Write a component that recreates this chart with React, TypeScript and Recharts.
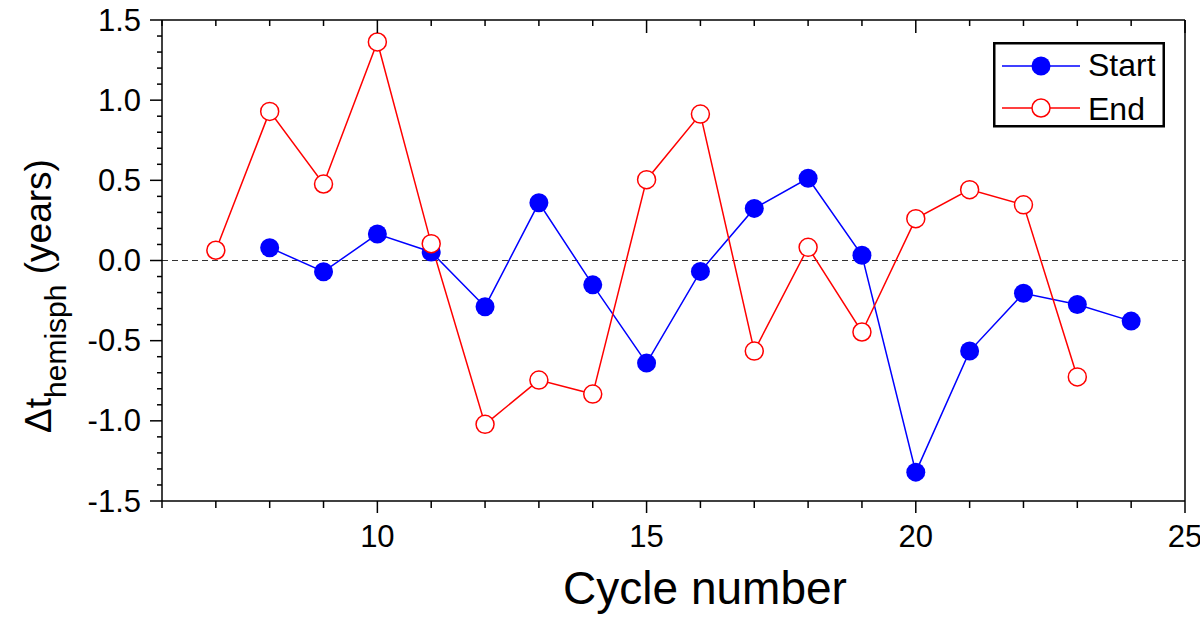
import { LineChart, Line, XAxis, YAxis, ReferenceLine, Legend } from 'recharts';

// Cycle numbers and hemispheric time differences (years)
const startCycles = [8, 9, 10, 11, 12, 13, 14, 15, 16, 17, 18, 19, 20, 21, 22, 23, 24];
const startValues = [0.08, -0.07, 0.165, 0.053, -0.288, 0.36, -0.152, -0.64, -0.068, 0.325, 0.513, 0.033, -1.32, -0.565, -0.204, -0.274, -0.378];

const endCycles = [7, 8, 9, 10, 11, 12, 13, 14, 15, 16, 17, 18, 19, 20, 21, 22, 23];
const endValues = [0.064, 0.93, 0.477, 1.363, 0.105, -1.022, -0.746, -0.833, 0.504, 0.913, -0.565, 0.082, -0.446, 0.261, 0.442, 0.347, -0.726];

const xTicks = [6, 7, 8, 9, 10, 11, 12, 13, 14, 15, 16, 17, 18, 19, 20, 21, 22, 23, 24, 25];
const xLabels = [10, 15, 20, 25];
const yTicks = [
  -1.5, -1.4, -1.3, -1.2, -1.1, -1.0, -0.9, -0.8, -0.7, -0.6, -0.5, -0.4, -0.3, -0.2, -0.1, 0,
  0.1, 0.2, 0.3, 0.4, 0.5, 0.6, 0.7, 0.8, 0.9, 1.0, 1.1, 1.2, 1.3, 1.4, 1.5,
];
const yLabels = [-1.5, -1.0, -0.5, 0, 0.5, 1.0, 1.5];

const FONT = '"Liberation Sans", Arial, sans-serif';
const BLUE = '#0000ff';
const RED = '#ff0000';

const allCycles = Array.from(new Set([...endCycles, ...startCycles])).sort((a, b) => a - b);
const tableData = allCycles.map(c => {
  const si = startCycles.indexOf(c);
  const ei = endCycles.indexOf(c);
  return {
    cycle: c,
    start: si >= 0 ? startValues[si] : null,
    end: ei >= 0 ? endValues[ei] : null,
  };
});

const isYMajor = (v: number) => yLabels.some(l => Math.abs(l - v) < 1e-6);

const BottomTick = ({ x, y, payload }: any) => {
  const major = xLabels.includes(payload.value);
  return (
    <g>
      <line x1={x} y1={y} x2={x} y2={y + (major ? 12 : 7)} stroke="#000" strokeWidth={1.5} />
      {major && (
        <text x={x} y={y + 46} textAnchor="middle" fontSize={31} fontFamily={FONT} fill="#000">
          {payload.value}
        </text>
      )}
    </g>
  );
};

const TopTick = ({ x, y, payload }: any) => {
  const major = xLabels.includes(payload.value);
  return <line x1={x} y1={y} x2={x} y2={y + (major ? 13 : 6)} stroke="#000" strokeWidth={1.5} />;
};

const LeftTick = ({ x, y, payload }: any) => {
  const major = isYMajor(payload.value);
  return (
    <g>
      <line x1={x} y1={y} x2={x - (major ? 12 : 5)} y2={y} stroke="#000" strokeWidth={1.5} />
      {major && (
        <text x={x - 21} y={y + 10.5} textAnchor="end" fontSize={31} fontFamily={FONT} fill="#000">
          {payload.value.toFixed(1)}
        </text>
      )}
    </g>
  );
};

const RightTick = ({ x, y, payload }: any) => {
  const major = isYMajor(payload.value);
  return <line x1={x} y1={y} x2={x - (major ? 13 : 6)} y2={y} stroke="#000" strokeWidth={1.5} />;
};

const renderLegend = () => (
  <svg width={172} height={86} style={{ display: 'block' }}>
    <rect x={1.25} y={1.25} width={169.5} height={83} fill="#fff" stroke="#000" strokeWidth={2.5} />
    <line x1={9} y1={24} x2={87} y2={24} stroke={BLUE} strokeWidth={1.5} />
    <circle cx={48} cy={24} r={9.5} fill={BLUE} />
    <text x={95} y={34} fontSize={32} fontFamily={FONT} fill="#000">Start</text>
    <line x1={9} y1={66} x2={87} y2={66} stroke={RED} strokeWidth={1.5} />
    <circle cx={48} cy={66} r={9} fill="#fff" stroke={RED} strokeWidth={1.5} />
    <text x={95} y={78} fontSize={32} fontFamily={FONT} fill="#000">End</text>
  </svg>
);

const YLabel = () => (
  <text
    x={51}
    y={296}
    transform="rotate(-90, 51, 296)"
    textAnchor="middle"
    fontFamily={FONT}
    fill="#000"
    fontSize={37}
  >
    Δt
    <tspan fontSize={30} dy={15}>hemisph</tspan>
    <tspan fontSize={37} dy={-15}> (years)</tspan>
  </text>
);

const XLabel = () => (
  <text x={705} y={604} textAnchor="middle" fontFamily={FONT} fontSize={46} fill="#000">
    Cycle number
  </text>
);

export default function App() {
  return (
    <div style={{ position: 'absolute', left: 0, top: 0, width: 1200, height: 632, background: '#fff' }}>
      <LineChart width={1200} height={632} data={tableData} margin={{ top: 0, right: 0, bottom: 0, left: 0 }}>
        <XAxis
          dataKey="cycle"
          type="number"
          domain={[6, 25]}
          ticks={xTicks}
          interval={0}
          height={131}
          tickSize={0}
          tickMargin={0}
          tick={<BottomTick />}
          axisLine={{ stroke: '#000', strokeWidth: 1.5 }}
          label={{ content: () => <XLabel /> }}
        />
        <XAxis
          xAxisId="top"
          orientation="top"
          dataKey="cycle"
          type="number"
          domain={[6, 25]}
          ticks={xTicks}
          interval={0}
          height={20}
          tickSize={0}
          tickMargin={0}
          tick={<TopTick />}
          axisLine={{ stroke: '#000', strokeWidth: 1.5 }}
        />
        <YAxis
          type="number"
          domain={[-1.5, 1.5]}
          ticks={yTicks}
          interval={0}
          width={162}
          tickSize={0}
          tickMargin={0}
          tick={<LeftTick />}
          axisLine={{ stroke: '#000', strokeWidth: 1.5 }}
          label={{ content: () => <YLabel /> }}
        />
        <YAxis
          yAxisId="right"
          orientation="right"
          type="number"
          domain={[-1.5, 1.5]}
          ticks={yTicks}
          interval={0}
          width={15}
          tickSize={0}
          tickMargin={0}
          tick={<RightTick />}
          axisLine={{ stroke: '#000', strokeWidth: 1.5 }}
        />
        <ReferenceLine y={0} stroke="#333" strokeWidth={1} strokeDasharray="6 4" />
        <Legend
          content={renderLegend}
          layout="horizontal"
          verticalAlign="middle"
          align="center"
          wrapperStyle={{ left: 993, top: 42, width: 172, height: 86 }}
        />
        <Line
          dataKey="start"
          stroke={BLUE}
          strokeWidth={1.5}
          dot={{ r: 9.5, fill: BLUE, stroke: BLUE, strokeWidth: 0 }}
          activeDot={false}
          isAnimationActive={false}
        />
        <Line
          dataKey="end"
          stroke={RED}
          strokeWidth={1.5}
          dot={{ r: 9, fill: '#fff', stroke: RED, strokeWidth: 1.5 }}
          activeDot={false}
          isAnimationActive={false}
        />
      </LineChart>
    </div>
  );
}
